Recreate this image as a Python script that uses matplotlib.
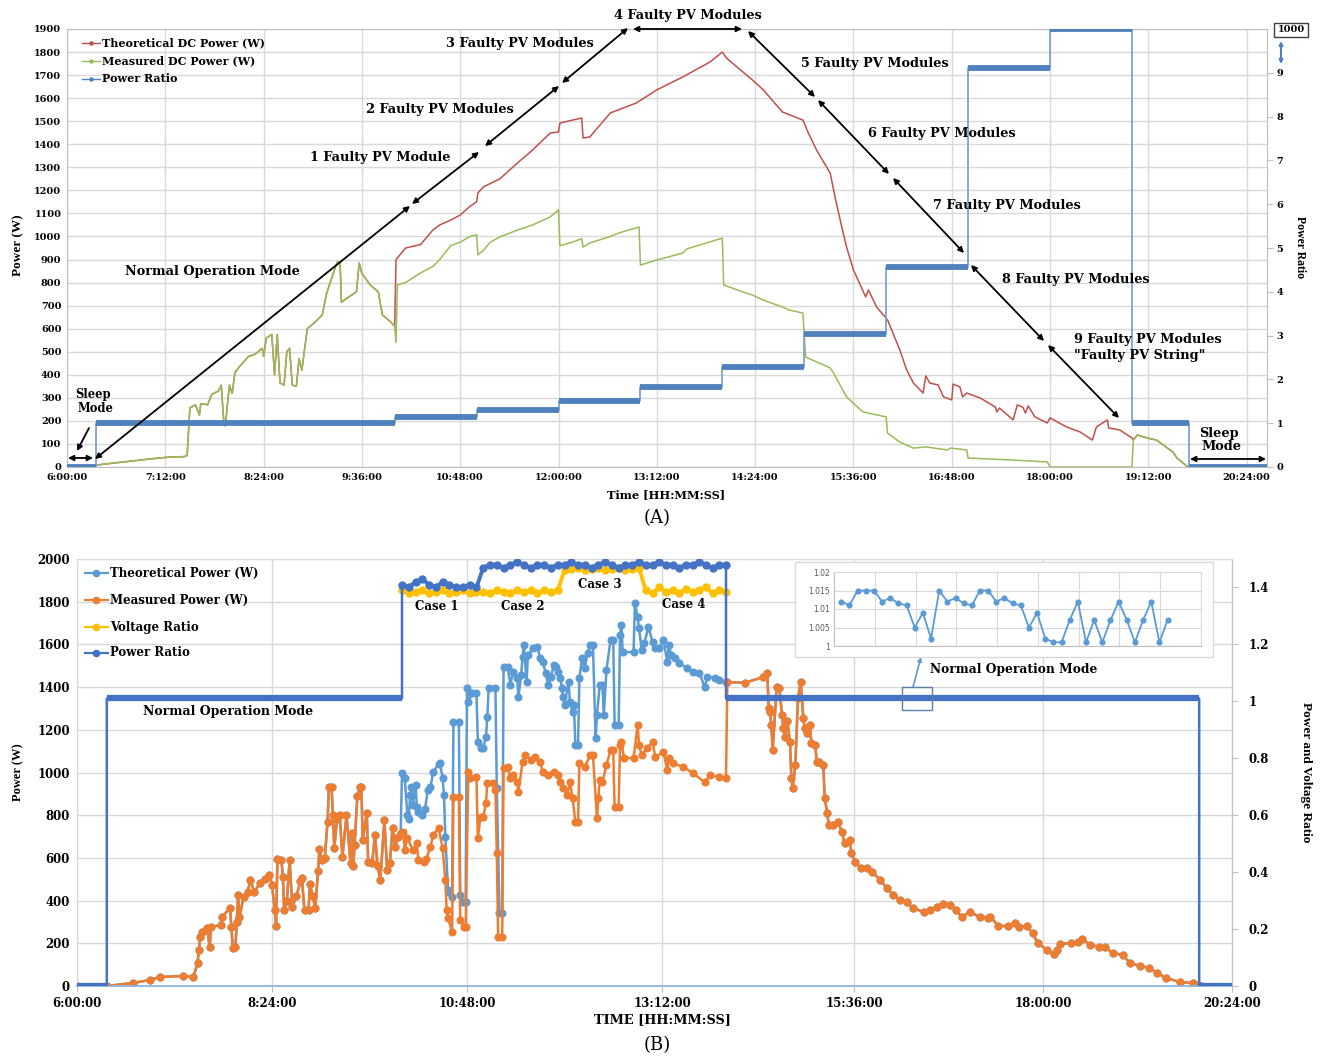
import numpy as np
import matplotlib
matplotlib.use("Agg")
import matplotlib.pyplot as plt
from matplotlib.lines import Line2D
from matplotlib.patches import Rectangle, FancyArrowPatch

# ======================= DATA =======================
# ---- Panel (A) ----
a_xticks = ["6:00", "7:12", "8:24", "9:36", "10:48", "12:00", "13:12",
            "14:24", "15:36", "16:48", "18:00", "19:12", "20:24"]
a_series_names = ["Theoretical DC Power (W)", "Measured DC Power (W)", "Power Ratio"]

# morning: theoretical and measured coincide
a_morning_time = ["6:21", "6:31", "7:01", "7:15", "7:26", "7:28", "7:30", "7:34", "7:37", "7:38",
                  "7:43", "7:46", "7:51", "7:53", "7:55", "7:56", "7:58", "7:59", "8:01", "8:03",
                  "8:07", "8:13", "8:18", "8:23", "8:24", "8:26", "8:30", "8:32", "8:34", "8:36",
                  "8:39", "8:41", "8:43", "8:45", "8:48", "8:50", "8:52", "8:54", "8:56", "9:02",
                  "9:07", "9:10", "9:15", "9:18", "9:20", "9:21", "9:27", "9:32", "9:34", "9:36",
                  "9:42", "9:48", "9:51", "9:57", "10:00"]
a_morning_w = [8, 15, 35, 43, 45, 50, 256, 270, 225, 275,
               270, 315, 330, 355, 180, 180, 300, 355, 320, 410,
               440, 480, 490, 515, 480, 560, 575, 400, 575, 365,
               355, 500, 515, 355, 350, 470, 420, 510, 600, 630,
               660, 750, 840, 890, 890, 715, 740, 760, 885, 840,
               790, 760, 660, 630, 610]

a_theo_time = ["10:01", "10:08", "10:19", "10:28", "10:33", "10:41", "10:48", "10:55", "11:00", "11:01",
               "11:05", "11:17", "11:30", "11:41", "11:54", "12:00", "12:01", "12:17", "12:18", "12:23",
               "12:38", "12:57", "13:12", "13:31", "13:51", "14:00", "14:03", "14:15", "14:22", "14:30",
               "14:44", "14:59", "15:03", "15:09", "15:19", "15:23", "15:28", "15:31", "15:36", "15:45",
               "15:47", "15:53", "16:01", "16:10", "16:15", "16:20", "16:27", "16:29", "16:32", "16:38",
               "16:42", "16:48", "16:49", "16:54", "16:56", "16:59", "17:09", "17:20", "17:21", "17:23",
               "17:33", "17:36", "17:40", "17:42", "17:44", "17:49", "17:58", "18:00", "18:12", "18:22",
               "18:31", "18:34", "18:42", "18:43", "18:51", "19:00"]
a_theo_w = [900, 950, 965, 1028, 1050, 1071, 1093, 1130, 1150, 1189,
            1215, 1250, 1319, 1375, 1449, 1453, 1492, 1514, 1427, 1432,
            1536, 1579, 1636, 1692, 1757, 1800, 1774, 1714, 1679, 1636,
            1540, 1505, 1449, 1375, 1275, 1158, 1028, 954, 855, 738,
            768, 694, 638, 508, 421, 364, 321, 395, 364, 356,
            304, 291, 360, 347, 304, 321, 299, 260, 239, 256,
            204, 269, 260, 234, 265, 217, 191, 213, 174, 152,
            117, 174, 204, 169, 161, 126]

a_meas_time = ["10:01", "10:02", "10:08", "10:19", "10:28", "10:33", "10:41", "10:48", "10:55", "11:00",
               "11:01", "11:05", "11:10", "11:17", "11:30", "11:41", "11:54", "12:00", "12:01", "12:10",
               "12:17", "12:18", "12:23", "12:38", "12:44", "12:59", "13:00", "13:12", "13:31", "13:34",
               "14:00", "14:01", "14:15", "14:22", "14:30", "14:44", "14:49", "14:59", "15:01", "15:19",
               "15:21", "15:31", "15:43", "16:00", "16:01", "16:10", "16:20", "16:29", "16:45", "16:47",
               "16:59", "17:00", "17:33", "17:58", "18:00", "19:00"]
a_meas_w = [540, 790, 800, 842, 870, 900, 960, 975, 1000, 1007,
            920, 940, 975, 998, 1028, 1050, 1085, 1115, 960, 975,
            990, 954, 972, 1000, 1015, 1041, 876, 898, 928, 946,
            993, 790, 759, 746, 724, 694, 681, 668, 477, 430,
            412, 304, 239, 217, 147, 108, 82, 87, 74, 82,
            74, 39, 30, 22, 0, 0]

# evening: both coincide again
a_tail_time = ["19:01", "19:04", "19:11", "19:18", "19:30", "19:33", "19:41"]
a_tail_w = [117, 139, 126, 117, 65, 39, 0]

# power ratio (step values; 1000 is shown on a broken axis)
a_ratio_time = ["6:00", "6:21", "10:00", "11:00", "12:00", "13:00", "14:00", "15:00",
                "16:00", "17:00", "18:00", "19:00", "19:42", "20:39"]
a_ratio = [0, 1.0, 1.14, 1.30, 1.51, 1.83, 2.28, 3.04, 4.57, 9.11, 1000, 1.0, 0, 0]
a_fault_labels = ["1 Faulty PV Module", "2 Faulty PV Modules", "3 Faulty PV Modules",
                  "4 Faulty PV Modules", "5 Faulty PV Modules", "6 Faulty PV Modules",
                  "7 Faulty PV Modules", "8 Faulty PV Modules"]

# ---- Panel (B) ----
b_xticks = ["6:00", "8:24", "10:48", "13:12", "15:36", "18:00", "20:24"]
b_series_names = ["Theoretical Power (W)", "Measured Power (W)", "Voltage Ratio", "Power Ratio"]
b_case_labels = ["Case 1", "Case 2", "Case 3", "Case 4"]

b_morning_time = ["6:00", "6:22", "6:41", "6:54", "7:01", "7:18", "7:26", "7:29", "7:30", "7:31",
                  "7:32", "7:36", "7:38", "7:39", "7:46", "7:47", "7:53", "7:54", "7:55", "7:57",
                  "7:58", "7:59", "8:00", "8:03", "8:06", "8:08", "8:11", "8:15", "8:19", "8:22",
                  "8:24", "8:26", "8:27", "8:28", "8:31", "8:32", "8:33", "8:35", "8:37", "8:39",
                  "8:42", "8:45", "8:46", "8:48", "8:51", "8:52", "8:54", "8:56", "8:58", "8:59",
                  "9:01", "9:03", "9:05", "9:06", "9:08", "9:09", "9:10", "9:12", "9:14", "9:16",
                  "9:19", "9:22", "9:23", "9:24", "9:25", "9:27", "9:29", "9:30", "9:31", "9:34",
                  "9:35", "9:38", "9:40", "9:42", "9:44", "9:47", "9:49", "9:51", "9:53", "9:55",
                  "9:57", "9:59"]
b_morning_w = [0, 0, 14, 28, 42, 47, 42, 108, 169, 230,
               253, 272, 183, 276, 286, 323, 365, 276, 178, 183,
               300, 426, 323, 417, 440, 496, 440, 482, 500, 520,
               473, 356, 281, 595, 590, 511, 355, 400, 590, 370,
               420, 490, 505, 355, 355, 480, 420, 365, 540, 640,
               590, 600, 768, 930, 930, 800, 646, 780, 800, 604,
               800, 576, 716, 561, 660, 890, 932, 932, 684, 810,
               581, 576, 707, 561, 496, 778, 543, 576, 740, 651,
               700, 716]

b_theo_time = ["10:00", "10:02", "10:04", "10:05", "10:06", "10:07", "10:08", "10:10", "10:11", "10:12",
               "10:15", "10:17", "10:19", "10:21", "10:23", "10:27", "10:28", "10:30", "10:31", "10:32",
               "10:34", "10:35", "10:37", "10:38", "10:42", "10:43", "10:45", "10:47", "10:48", "10:49",
               "10:52", "10:55", "10:56", "10:58", "11:00", "11:02", "11:03", "11:04", "11:09", "11:10",
               "11:12", "11:14", "11:15", "11:18", "11:20", "11:22", "11:25", "11:26", "11:28", "11:29",
               "11:30", "11:32", "11:33", "11:37", "11:40", "11:42", "11:44", "11:46", "11:48", "11:50",
               "11:52", "11:54", "11:55", "11:57", "11:58", "11:59", "12:00", "12:03", "12:04", "12:06",
               "12:07", "12:08", "12:10", "12:11", "12:13", "12:15", "12:17", "12:19", "12:21", "12:23",
               "12:24", "12:26", "12:28", "12:29", "12:31", "12:34", "12:36", "12:37", "12:40", "12:41",
               "12:42", "12:43", "12:51", "12:52", "12:54", "12:55", "12:57", "12:59", "13:02", "13:05",
               "13:07", "13:10", "13:13", "13:16", "13:17", "13:19", "13:22", "13:25", "13:31", "13:35",
               "13:40", "13:44", "13:46", "13:52", "13:55", "14:00"]
b_theo_w = [998, 974, 800, 782, 895, 932, 848, 941, 838, 815,
            800, 829, 918, 930, 1002, 1040, 1044, 974, 895, 700,
            450, 440, 417, 1237, 1237, 426, 393, 395, 1396, 1330,
            1372, 1372, 1143, 1115, 1115, 1166, 1260, 1396, 1396, 927,
            340, 342, 1494, 1494, 1410, 1471, 1443, 1354, 1457, 1541,
            1597, 1424, 1550, 1583, 1588, 1536, 1518, 1466, 1410, 1447,
            1503, 1494, 1471, 1443, 1396, 1354, 1316, 1424, 1330, 1283,
            1316, 1129, 1129, 1443, 1536, 1489, 1560, 1597, 1597, 1162,
            1269, 1410, 1410, 1269, 1480, 1621, 1621, 1222, 1222, 1644,
            1691, 1564, 1564, 1794, 1728, 1677, 1574, 1607, 1681, 1611,
            1583, 1583, 1621, 1518, 1597, 1550, 1536, 1513, 1489, 1471,
            1466, 1400, 1447, 1443, 1433, 1424]

b_meas_time = ["10:01", "10:02", "10:04", "10:08", "10:11", "10:12", "10:16", "10:18", "10:21", "10:23",
               "10:27", "10:30", "10:32", "10:33", "10:34", "10:37", "10:38", "10:42", "10:43", "10:46",
               "10:47", "10:49", "10:50", "10:55", "10:56", "10:58", "11:00", "11:02", "11:03", "11:07",
               "11:09", "11:10", "11:11", "11:14", "11:15", "11:18", "11:20", "11:22", "11:25", "11:26",
               "11:29", "11:31", "11:35", "11:38", "11:42", "11:44", "11:48", "11:52", "11:55", "11:57",
               "11:59", "12:02", "12:04", "12:06", "12:08", "12:10", "12:11", "12:15", "12:19", "12:21",
               "12:24", "12:25", "12:26", "12:28", "12:31", "12:34", "12:36", "12:37", "12:40", "12:41",
               "12:42", "12:44", "12:51", "12:54", "12:55", "12:57", "13:01", "13:05", "13:07", "13:13",
               "13:16", "13:17", "13:20", "13:28", "13:35", "13:44", "13:48", "13:55", "14:00"]
b_meas_w = [721, 637, 693, 637, 670, 590, 581, 595, 651, 707,
            740, 646, 496, 356, 318, 253, 886, 886, 309, 276,
            276, 1002, 974, 979, 693, 792, 792, 857, 951, 951,
            918, 623, 230, 230, 1021, 1026, 974, 988, 955, 909,
            1049, 1082, 1059, 1073, 1049, 1002, 988, 1002, 988, 955,
            927, 895, 955, 880, 768, 768, 1044, 1026, 1082, 1082,
            787, 880, 965, 955, 1035, 1105, 1105, 838, 838, 1129,
            1143, 1068, 1068, 1222, 1129, 1082, 1115, 1143, 1073, 1096,
            1012, 1068, 1044, 1026, 998, 955, 988, 979, 974]

b_after_time = ["14:01", "14:14", "14:28", "14:31", "14:32", "14:33", "14:34", "14:35", "14:38", "14:40",
                "14:42", "14:43", "14:44", "14:46", "14:48", "14:49", "14:50", "14:52", "14:54", "14:56",
                "14:58", "14:59", "15:01", "15:03", "15:04", "15:07", "15:08", "15:10", "15:13", "15:14",
                "15:16", "15:17", "15:20", "15:24", "15:27", "15:29", "15:33", "15:34", "15:37", "15:41",
                "15:46", "15:50", "15:56", "16:01", "16:06", "16:11", "16:16", "16:21", "16:29", "16:34",
                "16:39", "16:44", "16:49", "16:54", "16:58", "17:04", "17:12", "17:18", "17:20", "17:26",
                "17:33", "17:39", "17:42", "17:48", "17:52", "17:56", "18:03", "18:08", "18:11", "18:13",
                "18:21", "18:27", "18:30", "18:36", "18:43", "18:47", "18:53", "19:01", "19:06", "19:14",
                "19:21", "19:27", "19:34", "19:44", "19:54", "19:58", "20:00"]
b_after_w = [1424, 1420, 1447, 1466, 1302, 1283, 1222, 1105, 1400, 1396,
             1269, 1208, 1166, 1241, 1143, 974, 927, 1035, 1349, 1424,
             1255, 1208, 1185, 1222, 1138, 1129, 1049, 1049, 1035, 880,
             810, 754, 754, 768, 721, 670, 684, 623, 581, 553,
             553, 534, 496, 459, 426, 403, 393, 365, 347, 356,
             370, 384, 379, 356, 323, 347, 323, 318, 323, 281,
             281, 295, 276, 281, 248, 201, 169, 150, 169, 197,
             201, 206, 220, 192, 183, 183, 155, 145, 108, 94,
             84, 61, 37, 19, 14, 5, 0]

# ratios in the fault window, sampled every 5 min from 10:00 to 14:00 (Case 1..4)
b_power_ratio_case = [1.41, 1.40, 1.42, 1.43, 1.41, 1.40, 1.42, 1.41, 1.40, 1.40, 1.41, 1.40,
                      1.47, 1.48, 1.48, 1.47, 1.48, 1.49, 1.48, 1.47, 1.48, 1.48, 1.47, 1.48,
                      1.48, 1.49, 1.48, 1.48, 1.47, 1.48, 1.49, 1.48, 1.47, 1.48, 1.48, 1.49,
                      1.48, 1.48, 1.49, 1.48, 1.48, 1.47, 1.48, 1.48, 1.49, 1.48, 1.47, 1.48, 1.48]
b_voltage_ratio_case = [1.39, 1.38, 1.385, 1.39, 1.38, 1.385, 1.39, 1.38, 1.385, 1.39, 1.38, 1.385,
                        1.385, 1.38, 1.39, 1.385, 1.38, 1.39, 1.385, 1.39, 1.38, 1.39, 1.385, 1.39,
                        1.46, 1.465, 1.47, 1.46, 1.465, 1.47, 1.46, 1.465, 1.47, 1.46, 1.465, 1.47,
                        1.39, 1.38, 1.40, 1.385, 1.39, 1.38, 1.395, 1.385, 1.39, 1.40, 1.38, 1.39, 1.385]
# power ratio in normal / sleep mode (level, start, end)
b_pr_level_start = ["6:00", "6:22", "14:00", "19:59"]
b_pr_level_end = ["6:22", "10:00", "19:59", "20:24"]
b_pr_level = [0, 1.01, 1.01, 0]

# inset: power ratio in normal operation mode
inset_ratio = [1.012, 1.011, 1.015, 1.015, 1.015, 1.012, 1.013, 1.0115, 1.011, 1.005,
               1.009, 1.002, 1.015, 1.012, 1.013, 1.0115, 1.011, 1.015, 1.015, 1.012,
               1.013, 1.0115, 1.011, 1.005, 1.009, 1.002, 1.001, 1.001, 1.007, 1.012,
               1.001, 1.007, 1.001, 1.007, 1.012, 1.007, 1.001, 1.007, 1.012, 1.001, 1.007]

# ======================= HELPERS / LAYOUT =======================
W, H = 1321, 1057
# panel (B) uses an Excel category axis: tick spacing on screen is not uniform
B_TICK_PX = [77, 272, 467, 662, 854, 1043, 1232]


def hrs(ts):
    out = []
    for s in ts:
        h, m = s.split(":")
        out.append(int(h) + int(m) / 60.0)
    return np.array(out)


def fx(x):
    return x / W


def fy(y):
    return 1 - y / H


SERIF = "DejaVu Serif"
ROT = "Liberation Serif"
GRID = "#D9D9D9"
RED, GREEN, BLUE_A = "#C0504D", "#9BBB59", "#4F81BD"
THEO, MEAS, VOLT, PRB = "#5B9BD5", "#ED7D31", "#FFC000", "#4472C4"

fig = plt.figure(figsize=(W / 100, H / 100), dpi=100)


def ftext(x, y, s, size, ha="center", weight="bold", family=SERIF, **kw):
    return fig.text(fx(x), fy(y), s, ha=ha, va="center", fontsize=size,
                    fontweight=weight, fontfamily=family, **kw)


def farrow(p0, p1, style="<|-|>", color="black", lw=1.3, ms=8):
    fig.add_artist(FancyArrowPatch((fx(p0[0]), fy(p0[1])), (fx(p1[0]), fy(p1[1])),
                                   transform=fig.transFigure, arrowstyle=style,
                                   mutation_scale=ms, lw=lw, color=color,
                                   shrinkA=0, shrinkB=0))


# ======================= PANEL A =======================
axA = fig.add_axes([fx(67), fy(467), (1267 - 67) / W, (467 - 29) / H])
axA.set_xlim(6.0, 6.0 + 1200 / 1.3653 / 60)
axA.set_ylim(0, 1900)
axA.set_yticks(np.arange(0, 1901, 100))
axA.set_xticks(hrs(a_xticks))
axA.set_xticklabels([t + ":00" for t in a_xticks])
axA.grid(True, color=GRID, lw=1)
axA.set_axisbelow(True)
for sp in axA.spines.values():
    sp.set_color("#BFBFBF")
axA.tick_params(length=0, pad=4)
for lab in axA.get_xticklabels() + axA.get_yticklabels():
    lab.set_fontfamily(SERIF)
    lab.set_fontweight("bold")
    lab.set_fontsize(7)

tr = np.concatenate([hrs(a_morning_time), hrs(a_theo_time), hrs(a_tail_time)])
wr = np.concatenate([a_morning_w, a_theo_w, a_tail_w])
tg = np.concatenate([hrs(a_morning_time), hrs(a_meas_time), hrs(a_tail_time)])
wg = np.concatenate([a_morning_w, a_meas_w, a_tail_w])
axA.plot(tr, wr, color=RED, lw=1.1)
axA.plot(tg, wg, color=GREEN, lw=1.1)

axA2 = axA.twinx()
axA2.set_ylim(0, 10)
axA2.set_yticks(range(0, 10))
axA2.tick_params(axis="y", length=4, color="#BFBFBF", direction="out", pad=3)
for sp in axA2.spines.values():
    sp.set_visible(False)
for lab in axA2.get_yticklabels():
    lab.set_fontfamily(SERIF)
    lab.set_fontweight("bold")
    lab.set_fontsize(7)
ta = hrs(a_ratio_time)
va = np.minimum(np.array(a_ratio, dtype=float), 10)   # axis break at 10 -> "1000"
axA2.step(ta, va, where="post", color="#7FA3D1", lw=1.3)
axA2.hlines(va[:-1], ta[:-1], ta[1:], color=BLUE_A, lw=4.2, capstyle="butt")

# legend A
for y, name, c in zip([43, 61, 79], a_series_names, [RED, GREEN, BLUE_A]):
    fig.add_artist(Line2D([fx(82), fx(100)], [fy(y), fy(y)], transform=fig.transFigure, color=c, lw=1))
    fig.add_artist(Line2D([fx(91)], [fy(y)], transform=fig.transFigure, color=c, marker="o", ms=2.2))
    ftext(102, y, name, 8, ha="left")

# annotations A
ftext(380, 158, a_fault_labels[0], 9.3)
ftext(440, 110, a_fault_labels[1], 9.3)
ftext(520, 44, a_fault_labels[2], 9.3)
ftext(688, 15, a_fault_labels[3], 9.3)
ftext(875, 63, a_fault_labels[4], 9.3)
ftext(942, 133, a_fault_labels[5], 9.3)
ftext(1007, 205, a_fault_labels[6], 9.3)
ftext(1076, 279, a_fault_labels[7], 9.3)
ftext(1074, 339, "9 Faulty PV Modules", 9.3, ha="left")
ftext(1074, 355, '"Faulty PV String"', 9.3, ha="left")
ftext(212, 272, "Normal Operation Mode", 9.3)
ftext(93, 394, "Sleep", 8.3)
ftext(95, 408, "Mode", 8.3)
ftext(1219, 433, "Sleep", 9.3)
ftext(1221, 447, "Mode", 9.3)

farrow((68, 458), (93, 458))
farrow((89, 428), (77, 451), style="-|>")
farrow((95, 459), (410, 206))
farrow((412, 204), (479, 152))
farrow((485, 146), (559, 86))
farrow((562, 83), (628, 28))
farrow((633, 29), (742, 29))
farrow((748, 31), (815, 97))
farrow((818, 100), (889, 174))
farrow((893, 178), (964, 253))
farrow((971, 265), (1044, 341))
farrow((1048, 345), (1119, 418))
farrow((1190, 459), (1266, 459))

# axis break marker "1000"
ftext(1291, 30, "1000", 7, bbox=dict(boxstyle="square,pad=0.3", fc="white", ec="#404040", lw=1))
farrow((1281, 41), (1281, 64), color=BLUE_A, lw=1.5, ms=5)

ftext(666, 495, "Time [HH:MM:SS]", 8.2)
ftext(18, 245, "Power (W)", 9.5, family=ROT, rotation=90)
ftext(1300, 247, "Power Ratio", 8.5, family=ROT, rotation=270)
ftext(657, 518, "(A)", 13, weight="normal")

# ======================= PANEL B =======================
axB = fig.add_axes([fx(77), fy(986), (1232 - 77) / W, (986 - 559) / H])
b_tick_h = hrs(b_xticks)
b_px = np.array(B_TICK_PX, dtype=float)
axB.set_xscale("function", functions=(lambda t: np.interp(t, b_tick_h, b_px),
                                      lambda p: np.interp(p, b_px, b_tick_h)))
axB.set_xlim(6.0, 20.4)
axB.set_ylim(0, 2000)
axB.set_yticks(np.arange(0, 2001, 200))
axB.set_xticks(b_tick_h)
axB.set_xticklabels([t + ":00" for t in b_xticks])
axB.xaxis.set_minor_locator(matplotlib.ticker.NullLocator())
axB.grid(True, color=GRID, lw=1)
axB.set_axisbelow(True)
axB.spines["left"].set_color(GRID)
axB.spines["top"].set_color(GRID)
axB.spines["right"].set_color("#BFBFBF")
axB.spines["bottom"].set_color("#8EB4E3")
axB.spines["bottom"].set_linewidth(1.3)
axB.tick_params(axis="y", length=0, pad=5)
axB.tick_params(axis="x", length=4, color="#BFBFBF", pad=4)
for lab in axB.get_xticklabels() + axB.get_yticklabels():
    lab.set_fontfamily(SERIF)
    lab.set_fontweight("bold")
    lab.set_fontsize(8.5)

tt = np.concatenate([hrs(b_morning_time), hrs(b_theo_time), hrs(b_after_time)])
wt = np.concatenate([b_morning_w, b_theo_w, b_after_w])
tm = np.concatenate([hrs(b_morning_time), hrs(b_meas_time), hrs(b_after_time)])
wm = np.concatenate([b_morning_w, b_meas_w, b_after_w])
axB.plot(tt, wt, color=THEO, lw=1.8, marker="o", ms=4.8, mec=THEO)
axB.plot(tm, wm, color=MEAS, lw=1.8, marker="o", ms=4.8, mec=MEAS)

axB2 = axB.twinx()
axB2.set_ylim(0, 1.5)
axB2.set_yticks([0, 0.2, 0.4, 0.6, 0.8, 1.0, 1.2, 1.4])
axB2.set_yticklabels(["0", "0.2", "0.4", "0.6", "0.8", "1", "1.2", "1.4"])
axB2.tick_params(axis="y", length=4, color="#BFBFBF", direction="out", pad=8)
for sp in axB2.spines.values():
    sp.set_visible(False)
for lab in axB2.get_yticklabels():
    lab.set_fontfamily(SERIF)
    lab.set_fontweight("bold")
    lab.set_fontsize(8.5)

tcase = np.arange(len(b_power_ratio_case)) * (5 / 60.0) + 10.0
axB2.plot(tcase, b_voltage_ratio_case, color=VOLT, lw=2.8, marker="o", ms=5, mec=VOLT)
ls, le, lv = hrs(b_pr_level_start), hrs(b_pr_level_end), np.array(b_pr_level)
path_t = np.concatenate([[ls[0], le[0], ls[1], le[1]], tcase, [ls[2], le[2], ls[3], le[3]]])
path_v = np.concatenate([[lv[0], lv[0], lv[1], lv[1]], b_power_ratio_case, [lv[2], lv[2], lv[3], lv[3]]])
axB2.plot(path_t, path_v, color=PRB, lw=1.8)
axB2.hlines(lv, ls, le, color=PRB, lw=4.5, capstyle="butt")
axB2.plot(tcase, b_power_ratio_case, color=PRB, lw=2.8, marker="o", ms=5, mec=PRB)

# legend B
for y, name, c in zip([573, 600, 627, 653], b_series_names, [THEO, MEAS, VOLT, PRB]):
    fig.add_artist(Line2D([fx(85), fx(108)], [fy(y), fy(y)], transform=fig.transFigure, color=c, lw=1.6))
    fig.add_artist(Line2D([fx(96)], [fy(y)], transform=fig.transFigure, color=c, marker="o", ms=4.5))
    ftext(110, y, name, 8.5, ha="left")

ftext(228, 711, "Normal Operation Mode", 9)
ftext(437, 606, b_case_labels[0], 8.5)
ftext(523, 607, b_case_labels[1], 8.5)
ftext(600, 584, b_case_labels[2], 8.5)
ftext(684, 604, b_case_labels[3], 8.5)

# inset box
fig.add_artist(Rectangle((fx(795), fy(657)), (1213 - 795) / W, (657 - 562) / H,
                         transform=fig.transFigure, facecolor="white", edgecolor=GRID, lw=1, zorder=5))
axI = fig.add_axes([fx(834), fy(646), (1201 - 834) / W, (646 - 572) / H])
axI.set_zorder(10)
axI.plot(np.arange(len(inset_ratio)), inset_ratio, color=THEO, lw=1.3, marker="o", ms=3.4)
axI.set_ylim(1.0, 1.02)
axI.set_xlim(-0.9, 44.1)
axI.set_yticks([1.0, 1.005, 1.01, 1.015, 1.02])
axI.set_yticklabels(["1", "1.005", "1.01", "1.015", "1.02"])
axI.set_xticks(np.arange(4.1, 44.2, 5))
axI.set_xticklabels([])
axI.grid(True, color=GRID, lw=0.8)
axI.set_axisbelow(True)
axI.tick_params(length=0, labelsize=5.5, labelcolor="#595959", pad=3)
for sp in axI.spines.values():
    sp.set_color(GRID)
axI.spines["left"].set_color("#BFBFBF")
axI.spines["bottom"].set_color("#BFBFBF")

fig.add_artist(Rectangle((fx(902), fy(710)), 30 / W, 23 / H, transform=fig.transFigure,
                         facecolor="none", edgecolor="#5B7FB0", lw=1, zorder=6))
farrow((913, 687), (921, 657), style="-|>", color=THEO, lw=1.2, ms=6)
ftext(930, 669, "Normal Operation Mode", 8.8, ha="left")

ftext(662, 1020, "TIME [HH:MM:SS]", 9.3)
ftext(18, 772, "Power (W)", 9, family=ROT, rotation=90)
ftext(1306, 772, "Power and Voltage Ratio", 9.5, family=ROT, rotation=270)
ftext(657, 1045, "(B)", 13, weight="normal")

fig.savefig("out.png", dpi=100)
